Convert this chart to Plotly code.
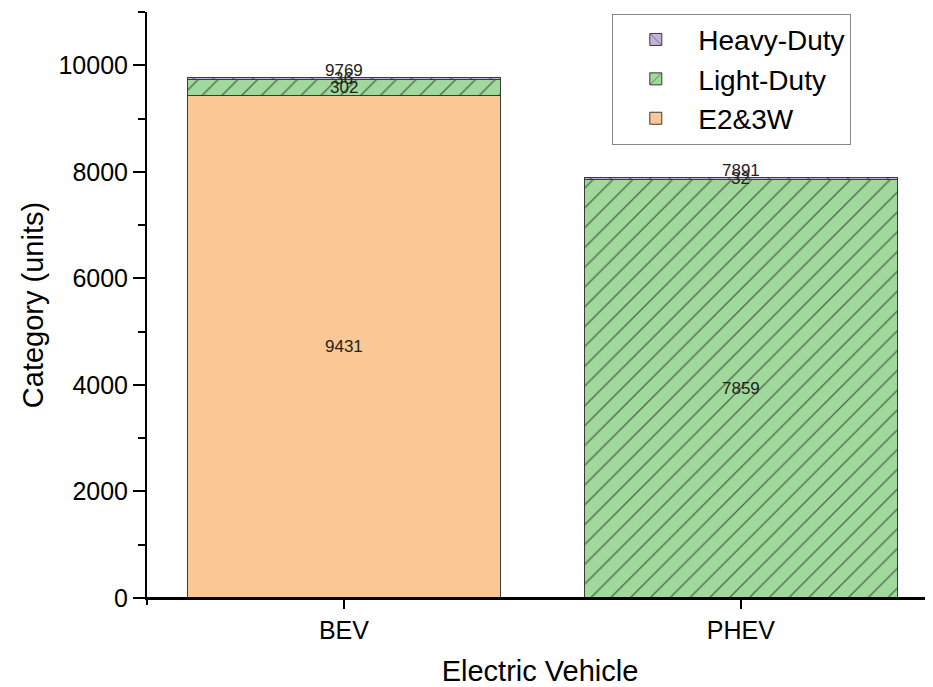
import plotly.graph_objects as go

categories = ["BEV", "PHEV"]
e23w = [9431, 0]
light_duty = [302, 7859]
heavy_duty = [36, 32]
series_names = ["E2&3W", "Light-Duty", "Heavy-Duty"]
y_ticks = [0, 2000, 4000, 6000, 8000, 10000]

FONT = "Liberation Sans, Arial, sans-serif"
fills = {"E2&3W": "#FBC895", "Light-Duty": "#A1D99C", "Heavy-Duty": "#C3B3DA"}
patterns = {"E2&3W": "", "Light-Duty": "/", "Heavy-Duty": "\\"}

fig = go.Figure()
series = [e23w, light_duty, heavy_duty]
for name, vals in zip(series_names, series):
    fig.add_trace(go.Bar(
        x=categories, y=vals, name=name, width=0.79,
        marker=dict(color=fills[name], line=dict(color="#3a3a3a", width=1),
                    pattern=dict(shape=patterns[name], fgcolor="#000000",
                                 bgcolor=fills[name], size=14, solidity=0.1)),
        hoverinfo="x+y+name",
    ))

# segment value labels at the centre of each non-empty segment, totals above
annotations = []
for i, cat in enumerate(categories):
    base = 0
    for vals in series:
        v = vals[i]
        if v > 0:
            annotations.append(dict(x=cat, y=base + v / 2, text=str(v), showarrow=False,
                                    font=dict(family=FONT, size=17, color="#222"),
                                    xref="x", yref="y", yanchor="middle"))
        base += v
    annotations.append(dict(x=cat, y=base, text=str(base), showarrow=False,
                            font=dict(family=FONT, size=17, color="#222"),
                            xref="x", yref="y", yanchor="bottom", yshift=-4))

# the page body adds an 8px offset, so the margins compensate for it
fig.update_layout(
    width=933, height=687,
    margin=dict(l=139, r=8, t=4, b=97, autoexpand=False),
    barmode="stack",
    plot_bgcolor="white", paper_bgcolor="white",
    font=dict(family=FONT, color="black"),
    annotations=annotations,
    showlegend=True,
    legend=dict(x=0.592, y=0.997, xanchor="left", yanchor="top",
                traceorder="reversed", bordercolor="#888", borderwidth=1,
                bgcolor="white", font=dict(family=FONT, size=28, color="black"),
                itemwidth=75),
    shapes=[
        dict(type="line", xref="paper", yref="paper", x0=-0.015, x1=1, y0=0, y1=0,
             line=dict(color="black", width=2)),
        dict(type="line", xref="paper", yref="paper", x0=0, x1=0, y0=0, y1=-0.012,
             line=dict(color="black", width=2)),
    ],
)
fig.update_xaxes(
    range=[-0.496, 1.484], showline=True, linecolor="black", linewidth=2,
    ticks="outside", ticklen=9, tickwidth=2, tickcolor="black", automargin=False,
    tickfont=dict(family=FONT, size=25, color="black"),
    title=dict(text="Electric Vehicle", font=dict(family=FONT, size=29, color="black"), standoff=18),
    showgrid=False, zeroline=False,
)
fig.update_yaxes(
    range=[0, 11000], tickvals=y_ticks, tickformat="d", showline=True, linecolor="black", linewidth=2,
    ticks="outside", ticklen=12, tickwidth=2, tickcolor="black", automargin=False,
    minor=dict(dtick=1000, ticks="outside", ticklen=7, tickwidth=2, tickcolor="black", showgrid=False),
    tickfont=dict(family=FONT, size=25, color="black"),
    title=dict(text="Category (units)", font=dict(family=FONT, size=29, color="black"), standoff=6),
    showgrid=False, zeroline=False,
)

fig.write_html("out.html")
